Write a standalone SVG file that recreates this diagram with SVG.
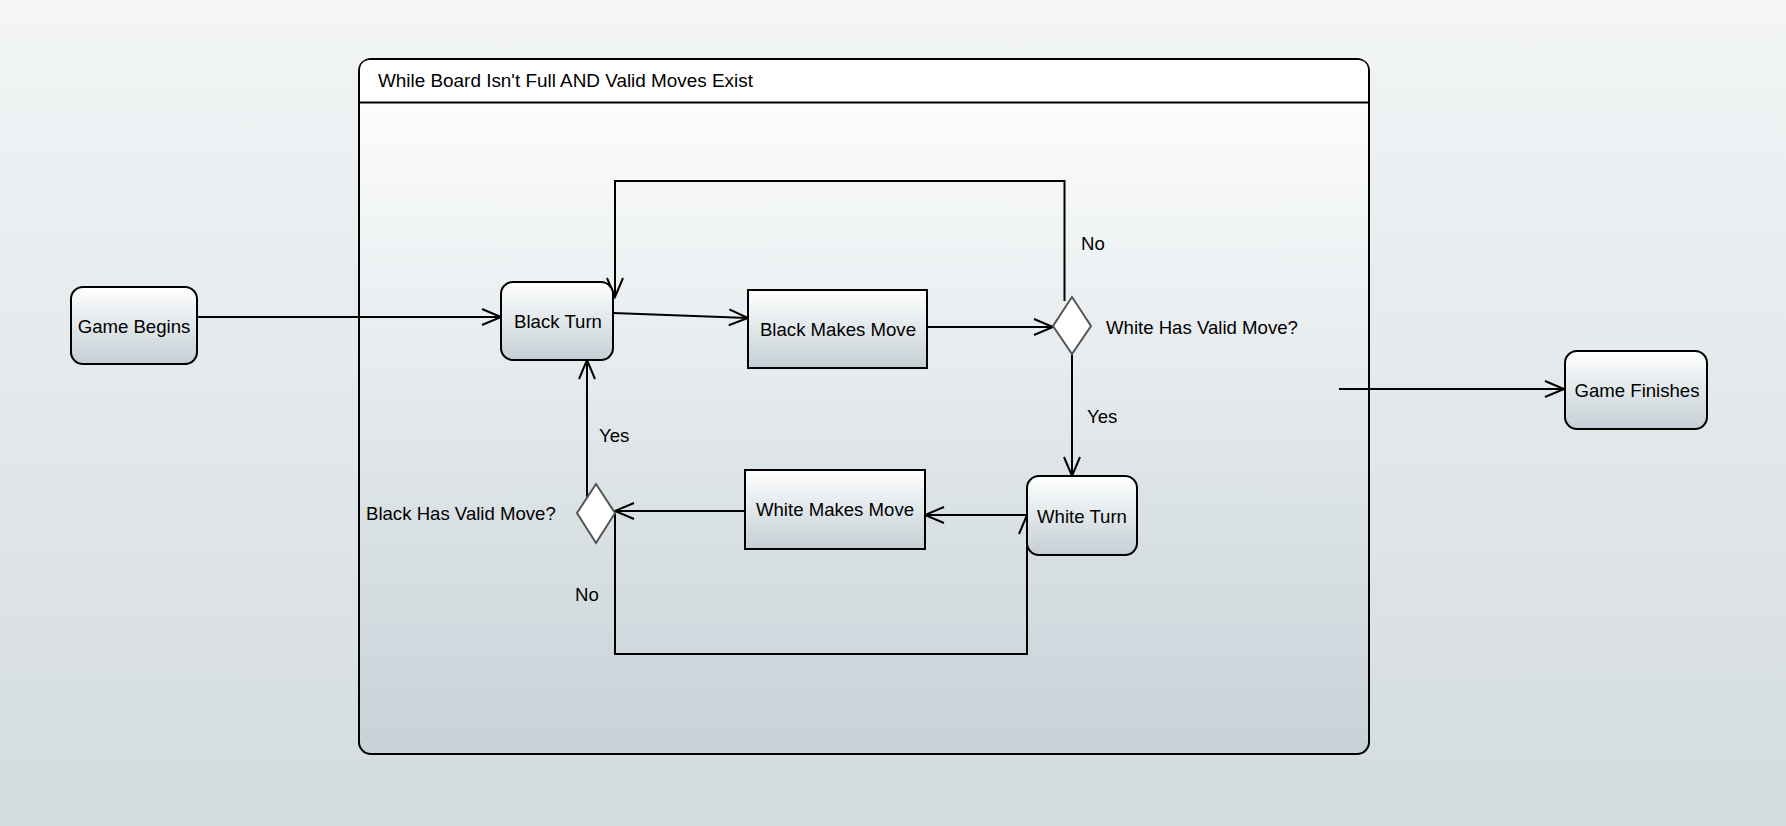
<svg xmlns="http://www.w3.org/2000/svg" width="1786" height="826" viewBox="0 0 1786 826">
  <defs>
    <linearGradient id="bg" x1="0" y1="0" x2="0" y2="1">
      <stop offset="0" stop-color="#f3f5f6"/>
      <stop offset="1" stop-color="#d3dbdf"/>
    </linearGradient>
    <linearGradient id="cont" x1="0" y1="0" x2="0" y2="1">
      <stop offset="0" stop-color="#ffffff"/>
      <stop offset="1" stop-color="#c7d2d7"/>
    </linearGradient>
    <linearGradient id="node" x1="0" y1="0" x2="0" y2="1">
      <stop offset="0" stop-color="#ffffff"/>
      <stop offset="1" stop-color="#c4cfd5"/>
    </linearGradient>
    <marker id="arr" markerWidth="24" markerHeight="20" refX="19" refY="9" orient="auto" markerUnits="userSpaceOnUse" overflow="visible">
      <path d="M0,1 L19,9 L0,17" fill="none" stroke="#000" stroke-width="2"/>
    </marker>
    <style>
      text { font-family: "Liberation Sans", Arial, sans-serif; font-size: 18.6px; fill: #000; dominant-baseline: central; }
      .c { text-anchor: middle; }
      .box { fill: url(#node); stroke: #000; stroke-width: 2; }
      .dia { fill: #fff; stroke: #555; stroke-width: 2; }
      .ln { fill: none; stroke: #000; stroke-width: 2; marker-end: url(#arr); }
    </style>
  </defs>
  <rect x="0" y="0" width="1786" height="826" fill="url(#bg)"/>

  <g id="container">
    <rect x="359" y="59" width="1010" height="695" rx="12" fill="url(#cont)" stroke="#000" stroke-width="2"/>
    <path d="M360,102.5 L1368,102.5 L1368,71 Q1368,60 1357,60 L371,60 Q360,60 360,71 Z" fill="#fff"/>
    <line x1="359" y1="102.5" x2="1369" y2="102.5" stroke="#000" stroke-width="2"/>
    <text x="378" y="80" style="font-size:18.9px">While Board Isn't Full AND Valid Moves Exist</text>
  </g>

  <g id="connectors">
    <path class="ln" d="M197,317 L501,317"/>
    <path class="ln" d="M613,313 L748,318"/>
    <path class="ln" d="M927,327 L1053,327"/>
    <path class="ln" d="M1064.5,301 L1064.5,181 L615,181 L615,297"/>
    <path class="ln" d="M1072,354 L1072,476"/>
    <path class="ln" d="M1027,515 L925,515"/>
    <path class="ln" d="M745,511 L615,511"/>
    <path class="ln" d="M587,500 L587,360"/>
    <path class="ln" d="M615,514 L615,654 L1027,654 L1027,515"/>
    <path class="ln" d="M1339,389 L1564,389"/>
    <text x="1081" y="243">No</text>
    <text x="1087" y="416">Yes</text>
    <text x="599" y="435">Yes</text>
    <text x="575" y="594">No</text>
  </g>

  <g id="game-begins">
    <rect class="box" x="71" y="287" width="126" height="77" rx="12"/>
    <text class="c" x="134" y="326">Game Begins</text>
  </g>
  <g id="black-turn">
    <rect class="box" x="501" y="282" width="112" height="78" rx="12"/>
    <text class="c" x="558" y="321">Black Turn</text>
  </g>
  <g id="black-makes-move">
    <rect class="box" x="748" y="290" width="179" height="78"/>
    <text class="c" x="838" y="329">Black Makes Move</text>
  </g>
  <g id="white-valid">
    <polygon class="dia" points="1072,297 1091,326 1072,354 1053,326"/>
    <text x="1106" y="327">White Has Valid Move?</text>
  </g>
  <g id="white-turn">
    <rect class="box" x="1027" y="476" width="110" height="79" rx="12"/>
    <text class="c" x="1082" y="516">White Turn</text>
  </g>
  <g id="white-makes-move">
    <rect class="box" x="745" y="470" width="180" height="79"/>
    <text class="c" x="835" y="509">White Makes Move</text>
  </g>
  <g id="black-valid">
    <polygon class="dia" points="596,484 615,513 596,543 577,513"/>
    <text x="366" y="513">Black Has Valid Move?</text>
  </g>
  <g id="game-finishes">
    <rect class="box" x="1565" y="351" width="142" height="78" rx="12"/>
    <text class="c" x="1637" y="390">Game Finishes</text>
  </g>
</svg>
